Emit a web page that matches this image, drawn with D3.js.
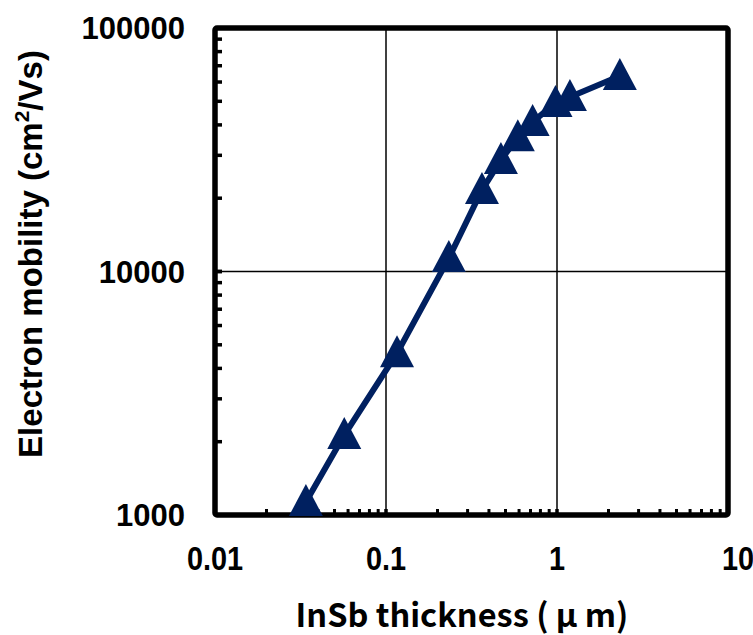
<!DOCTYPE html>
<html>
<head>
<meta charset="utf-8">
<script src="https://cdn.jsdelivr.net/npm/d3@7"></script>
<style>
  body { margin: 0; background: #fff; }
  svg { display: block; }
</style>
</head>
<body>
<svg id="chart" width="753" height="635"></svg>
<script>
// thickness (um) and electron mobility (cm2/Vs)
var thickness = [0.034, 0.057, 0.116, 0.233, 0.364, 0.47, 0.59, 0.72, 0.98, 1.19, 2.33];
var mobility = [1130, 2130, 4620, 11350, 21600, 28700, 35600, 41100, 49200, 52100, 63500];
var xTicks = [0.01, 0.1, 1, 10];
var yTicks = [1000, 10000, 100000];
var xTickLabels = ["0.01", "0.1", "1", "10"];
var yTickLabels = ["1000", "10000", "100000"];

var svg = d3.select("#chart");
var plotL = 215, plotR = 728, plotT = 28, plotB = 515;

var x = d3.scaleLog().domain([0.01, 10]).range([plotL, plotR]);
var y = d3.scaleLog().domain([1000, 100000]).range([plotB, plotT]);

// grid lines at the decades
var grid = svg.append("g");
grid.selectAll("line.vx")
  .data(xTicks.slice(1, -1))
  .enter().append("line")
  .attr("x1", function(d) { return x(d); })
  .attr("x2", function(d) { return x(d); })
  .attr("y1", plotT).attr("y2", plotB)
  .attr("stroke", "#000").attr("stroke-width", 1.5);
grid.selectAll("line.hy")
  .data(yTicks.slice(1, -1))
  .enter().append("line")
  .attr("y1", function(d) { return y(d); })
  .attr("y2", function(d) { return y(d); })
  .attr("x1", plotL).attr("x2", plotR)
  .attr("stroke", "#000").attr("stroke-width", 1.5);

// minor ticks, pointing inward
var minorX = [];
[0.01, 0.1, 1].forEach(function(b) { for (var i = 1; i <= 10; i++) minorX.push(b * i); });
var minorY = [];
[1000, 10000].forEach(function(b) { for (var i = 1; i <= 10; i++) minorY.push(b * i); });

svg.append("g").selectAll("line")
  .data(minorX)
  .enter().append("line")
  .attr("x1", function(d) { return x(d); })
  .attr("x2", function(d) { return x(d); })
  .attr("y1", plotB).attr("y2", plotB - 6)
  .attr("stroke", "#000").attr("stroke-width", 3);

svg.append("g").selectAll("line")
  .data(minorY)
  .enter().append("line")
  .attr("y1", function(d) { return y(d); })
  .attr("y2", function(d) { return y(d); })
  .attr("x1", plotL).attr("x2", plotL + 7)
  .attr("stroke", "#000").attr("stroke-width", 3.5);

// frame
svg.append("rect")
  .attr("x", plotL).attr("y", plotT)
  .attr("width", plotR - plotL).attr("height", plotB - plotT)
  .attr("fill", "none").attr("stroke", "#000").attr("stroke-width", 5.5)
  .attr("rx", 2);

// series
var pts = thickness.map(function(d, i) { return [d, mobility[i]]; });
var navy = "#002060";

svg.append("path")
  .datum(pts)
  .attr("fill", "none")
  .attr("stroke", navy)
  .attr("stroke-width", 6)
  .attr("d", d3.line()
    .x(function(d) { return x(d[0]); })
    .y(function(d) { return y(d[1]); }));

svg.append("g").selectAll("path")
  .data(pts)
  .enter().append("path")
  .attr("transform", function(d) { return "translate(" + x(d[0]) + "," + y(d[1]) + ")"; })
  .attr("d", "M0,-18L17,14L-17,14Z")
  .attr("fill", navy);

// tick labels
svg.append("g").selectAll("text")
  .data(yTicks)
  .enter().append("text")
  .attr("x", 185)
  .attr("y", function(d) { return y(d) + 11; })
  .attr("text-anchor", "end")
  .attr("font-family", "'Liberation Sans', Arial, sans-serif")
  .attr("font-weight", "bold")
  .attr("font-size", 31)
  .text(function(d, i) { return yTickLabels[i]; });

svg.append("g").selectAll("text")
  .data(xTicks)
  .enter().append("text")
  .attr("transform", function(d, i) {
    // last label sits a little to the right, clipped by the page edge
    var dx = i === xTicks.length - 1 ? 10 : 0;
    return "translate(" + (x(d) + dx) + ",570) scale(0.85,1)";
  })
  .attr("text-anchor", "middle")
  .attr("font-family", "'Liberation Sans', Arial, sans-serif")
  .attr("font-weight", "bold")
  .attr("font-size", 34)
  .text(function(d, i) { return xTickLabels[i]; });

// axis titles
svg.append("text")
  .attr("transform", "translate(42,254) rotate(-90)")
  .attr("text-anchor", "middle")
  .attr("font-family", "'Liberation Sans', Arial, sans-serif")
  .attr("font-weight", "bold")
  .attr("font-size", 33)
  .html("Electron mobility (cm<tspan font-size='21' dy='-13'>2</tspan><tspan dy='13'>/Vs)</tspan>");

svg.append("text")
  .attr("transform", "translate(462,627)")
  .attr("text-anchor", "middle")
  .attr("font-family", "'Noto Sans CJK JP', sans-serif")
  .attr("font-weight", "bold")
  .attr("font-size", 32.5)
  .text("InSb thickness ( μ m)");
</script>
</body>
</html>
